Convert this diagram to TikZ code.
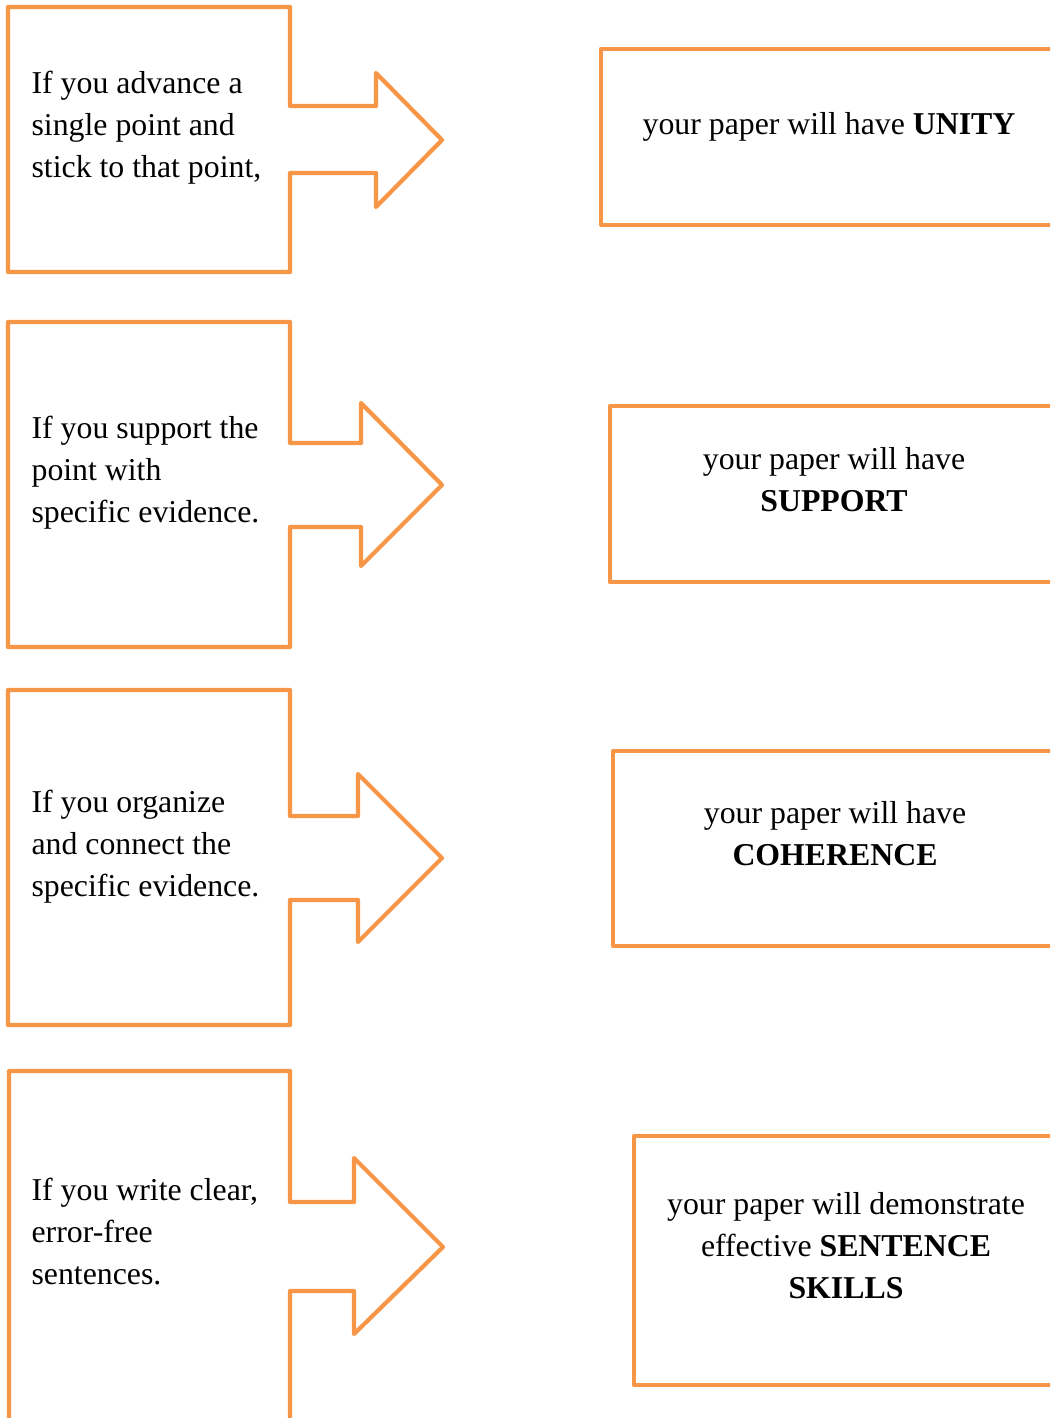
\documentclass[tikz,border=0pt]{standalone}
\usepackage{fontspec}
\setmainfont{Liberation Serif}
\usetikzlibrary{positioning}
\definecolor{callorange}{HTML}{F79646}

\begin{document}
\begin{tikzpicture}[x=0.33333pt,y=-0.33333pt,line join=round,
   outline/.style={draw=callorange,line width=1.4pt},
   cond/.style={anchor=west,align=left,inner sep=0pt,font=\fontsize{10.6}{14}\selectfont},
   effect/.style={align=center,inner sep=0pt,font=\fontsize{10.6}{14}\selectfont}]
   \useasboundingbox (0,0) rectangle (1050,1418);
   \clip (0,0) rectangle (1050,1418);
   % arrow callouts on the left
   \draw[outline] (290,106) -- (376,106) -- (376,73) -- (442,140) -- (376,207) -- (376,173)
      -- (290,173) -- (290,272) -- (8,272) -- (8,7) -- (290,7) -- cycle;
   \draw[outline] (290,443) -- (361,443) -- (361,403) -- (442,485) -- (361,566) -- (361,527)
      -- (290,527) -- (290,647) -- (8,647) -- (8,322) -- (290,322) -- cycle;
   \draw[outline] (290,816) -- (358,816) -- (358,774) -- (442,858) -- (358,942) -- (358,900)
      -- (290,900) -- (290,1025) -- (8,1025) -- (8,690) -- (290,690) -- cycle;
   \draw[outline] (290,1202) -- (354,1202) -- (354,1158) -- (443,1247) -- (354,1334) -- (354,1291)
      -- (290,1291) -- (290,1440) -- (9,1440) -- (9,1071) -- (290,1071) -- cycle;
   \node[cond] (c1) at (31,128)  {If you advance a\\single point and\\stick to that point,};
   \node[cond] (c2) at (31,473)  {If you support the\\point with\\specific evidence.};
   \node[cond] (c3) at (31,847)  {If you organize\\and connect the\\specific evidence.};
   \node[cond] (c4) at (31,1232) {If you write clear,\\error-free\\sentences.};
   % result boxes on the right
   \draw[outline] (601,49) rectangle (1070,225);
   \draw[outline] (610,406) rectangle (1070,582);
   \draw[outline] (613,751) rectangle (1070,946);
   \draw[outline] (634,1136) rectangle (1070,1385);
   \node[effect] (r1) at (829,127)  {your paper will have \textbf{UNITY}};
   \node[effect] (r2) at (834,480)  {your paper will have\\\textbf{SUPPORT}};
   \node[effect] (r3) at (835,834)  {your paper will have\\\textbf{COHERENCE}};
   \node[effect] (r4) at (846,1246) {your paper will demonstrate\\effective \textbf{SENTENCE}\\\textbf{SKILLS}};
\end{tikzpicture}
\end{document}
